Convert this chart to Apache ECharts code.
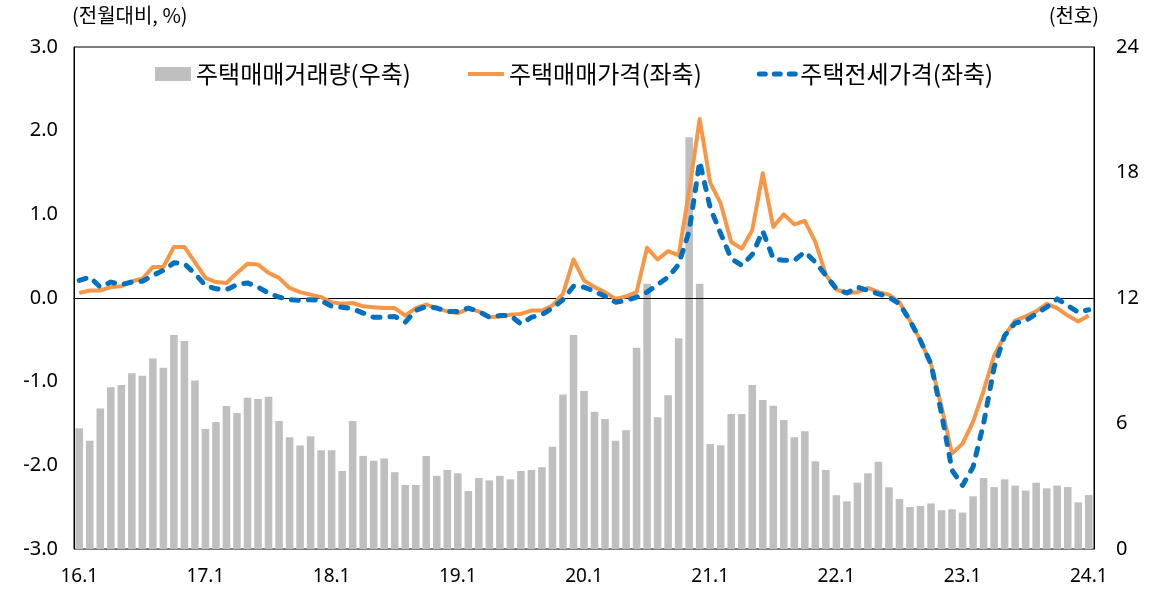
<!DOCTYPE html>
<html>
<head>
<meta charset="utf-8">
<script src="https://cdn.jsdelivr.net/npm/echarts@6/dist/echarts.min.js"></script>
<style>
html,body{margin:0;padding:0;background:#fff;}
#chart{width:1149px;height:595px;}
</style>
</head>
<body>
<div id="chart"></div>
<script>
// Categories: monthly, 16.1 .. 24.1
const categories = [];
for (let i = 0; i <= 96; i++) {
  categories.push((16 + Math.floor(i / 12)) + '.' + (i % 12 + 1));
}
const leftTicks = [-3, -2, -1, 0, 1, 2, 3];
const rightTicks = [0, 6, 12, 18, 24];

// 주택매매거래량 (천호, 우축)
const volume = [
  5.77, 5.18, 6.72, 7.73, 7.84, 8.40, 8.28, 9.11, 8.67, 10.23, 9.94, 8.06,
  5.74, 6.07, 6.84, 6.50, 7.23, 7.17, 7.28, 6.12, 5.34, 4.95, 5.39, 4.72,
  4.72, 3.73, 6.12, 4.45, 4.22, 4.33, 3.67, 3.06, 3.06, 4.45, 3.50, 3.78,
  3.62, 2.77, 3.39, 3.28, 3.50, 3.33, 3.73, 3.78, 3.91, 4.89, 7.39, 10.23,
  7.55, 6.56, 6.21, 5.18, 5.68, 9.62, 12.68, 6.30, 7.35, 10.07, 19.68, 12.68,
  5.02, 4.96, 6.45, 6.45, 7.84, 7.12, 6.85, 6.17, 5.34, 5.63, 4.19, 3.78,
  2.57, 2.28, 3.17, 3.62, 4.17, 2.95, 2.39, 2.01, 2.06, 2.18, 1.85, 1.90,
  1.74, 2.52, 3.39, 2.96, 3.33, 3.03, 2.79, 3.17, 2.90, 3.03, 2.96, 2.23,
  2.58
];

// 주택매매가격 (전월대비 %, 좌축)
const salePrice = [
  0.06, 0.09, 0.09, 0.13, 0.14, 0.20, 0.23, 0.37, 0.37, 0.61, 0.61, 0.43,
  0.24, 0.19, 0.18, 0.30, 0.41, 0.40, 0.30, 0.24, 0.12, 0.07, 0.04, 0.01,
  -0.05, -0.07, -0.06, -0.10, -0.11, -0.12, -0.12, -0.21, -0.12, -0.08, -0.12, -0.16,
  -0.18, -0.13, -0.16, -0.23, -0.22, -0.20, -0.19, -0.15, -0.15, -0.09, 0.05, 0.46,
  0.21, 0.13, 0.07, -0.01, 0.02, 0.07, 0.60, 0.46, 0.56, 0.51, 1.28, 2.14,
  1.38, 1.13, 0.67, 0.59, 0.81, 1.49, 0.85, 1.00, 0.88, 0.92, 0.67, 0.28,
  0.10, 0.06, 0.07, 0.12, 0.07, 0.04, -0.05, -0.27, -0.51, -0.79, -1.30, -1.86,
  -1.74, -1.48, -1.11, -0.69, -0.45, -0.27, -0.22, -0.16, -0.07, -0.12, -0.21, -0.28,
  -0.21
];

// 주택전세가격 (전월대비 %, 좌축)
const jeonsePrice = [
  0.21, 0.25, 0.13, 0.19, 0.16, 0.19, 0.20, 0.27, 0.33, 0.42, 0.41, 0.29,
  0.15, 0.11, 0.10, 0.16, 0.18, 0.13, 0.06, 0.01, -0.02, -0.03, -0.02, -0.03,
  -0.10, -0.11, -0.13, -0.18, -0.23, -0.23, -0.22, -0.29, -0.15, -0.10, -0.12, -0.16,
  -0.16, -0.12, -0.16, -0.23, -0.21, -0.21, -0.31, -0.23, -0.20, -0.12, -0.02, 0.14,
  0.13, 0.08, 0.02, -0.05, -0.03, 0.01, 0.07, 0.16, 0.25, 0.40, 0.80, 1.63,
  1.08, 0.77, 0.47, 0.39, 0.52, 0.80, 0.47, 0.45, 0.45, 0.55, 0.43, 0.27,
  0.11, 0.06, 0.13, 0.09, 0.05, 0.01, -0.07, -0.27, -0.51, -0.79, -1.38, -2.06,
  -2.24, -2.02, -1.50, -0.83, -0.45, -0.30, -0.27, -0.19, -0.11, -0.01, -0.09, -0.17,
  -0.14
];

const FONT = "'Noto Sans', 'Noto Sans CJK KR', sans-serif";
const KFONT = "'Noto Sans CJK KR', 'Noto Sans', sans-serif";

const chart = echarts.init(document.getElementById('chart'), null, {renderer: 'canvas'});
chart.setOption({
  animation: false,
  backgroundColor: '#ffffff',
  textStyle: {fontFamily: FONT, color: '#000'},
  graphic: [
    {type: 'text', left: 72, top: 5, style: {text: '(전월대비, %)', font: "20px " + KFONT, fill: '#000'}},
    {type: 'text', right: 50, top: 5, style: {text: '(천호)', font: "20px " + KFONT, fill: '#000'}}
  ],
  legend: {
    top: 57,
    left: 150,
    itemWidth: 36,
    itemHeight: 14,
    itemGap: 55,
    textStyle: {fontFamily: KFONT, fontSize: 24, color: '#000'},
    data: [
      {name: '주택매매거래량(우축)', icon: 'rect'},
      {name: '주택매매가격(좌축)', itemStyle: {opacity: 0}, lineStyle: {width: 4}},
      {name: '주택전세가격(좌축)', itemStyle: {opacity: 0}, lineStyle: {width: 5, type: [6, 9], cap: 'round'}}
    ]
  },
  grid: {
    left: 74, right: 55, top: 47, bottom: 46,
    show: true, borderColor: '#000', borderWidth: 1, backgroundColor: 'transparent'
  },
  xAxis: {
    type: 'category',
    data: categories,
    boundaryGap: true,
    axisLine: {show: true, lineStyle: {color: '#000', width: 1}},
    axisTick: {show: false},
    axisLabel: {interval: 11, fontSize: 19, color: '#000', margin: 18, fontFamily: FONT},
    splitLine: {show: false}
  },
  yAxis: [
    {
      type: 'value', position: 'left', min: leftTicks[0], max: leftTicks[leftTicks.length - 1], interval: 1,
      axisLine: {show: true, lineStyle: {color: '#000'}},
      axisTick: {show: false},
      splitLine: {show: false},
      axisLabel: {fontSize: 20, color: '#000', margin: 16, fontFamily: FONT,
        formatter: v => v.toFixed(1)}
    },
    {
      type: 'value', position: 'right', min: rightTicks[0], max: rightTicks[rightTicks.length - 1], interval: 6,
      axisLine: {show: true, lineStyle: {color: '#000'}},
      axisTick: {show: false},
      splitLine: {show: false},
      axisLabel: {fontSize: 20, color: '#000', margin: 22, fontFamily: FONT}
    }
  ],
  series: [
    {
      name: '주택매매거래량(우축)', type: 'bar', yAxisIndex: 1,
      data: volume, barWidth: '72%',
      itemStyle: {color: '#bfbfbf'}, z: 1
    },
    {
      name: '주택매매가격(좌축)', type: 'line', yAxisIndex: 0,
      data: salePrice, symbol: 'none', showSymbol: false,
      lineStyle: {color: '#f79646', width: 4, join: 'round'},
      itemStyle: {color: '#f79646'},
      z: 3,
      markLine: {
        silent: true, symbol: 'none', label: {show: false},
        lineStyle: {color: '#000', width: 1, type: 'solid'},
        data: [{yAxis: 0}], z: 2
      }
    },
    {
      name: '주택전세가격(좌축)', type: 'line', yAxisIndex: 0,
      data: jeonsePrice, symbol: 'none', showSymbol: false,
      lineStyle: {color: '#0070c0', width: 5, type: [7, 10], cap: 'round', join: 'round'},
      itemStyle: {color: '#0070c0'},
      z: 4
    }
  ]
});
</script>
</body>
</html>
